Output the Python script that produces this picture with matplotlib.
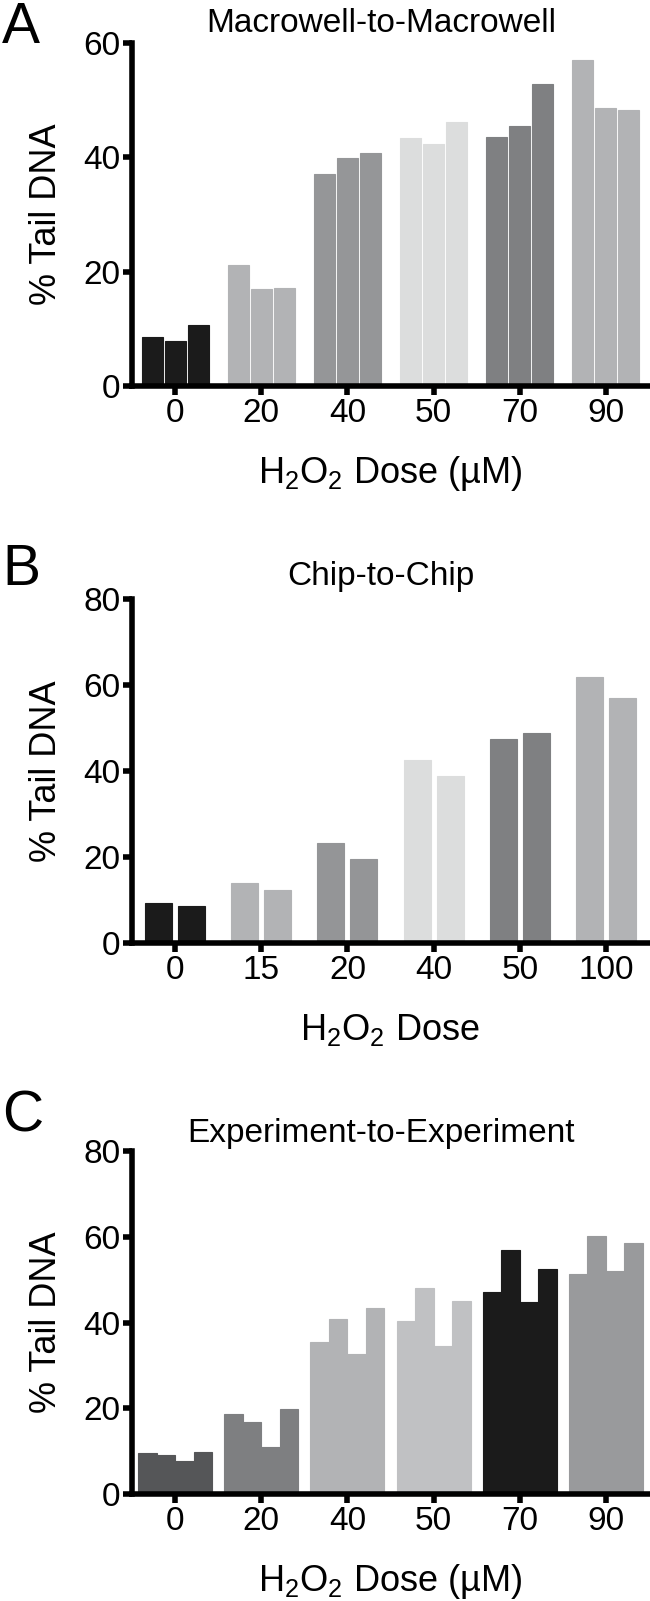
import matplotlib
matplotlib.use('Agg')
import matplotlib.pyplot as plt
import numpy as np

plt.rcParams['font.family'] = ['Liberation Sans', 'DejaVu Sans']
plt.rcParams['mathtext.fontset'] = 'custom'
plt.rcParams['mathtext.rm'] = 'Liberation Sans'
plt.rcParams['mathtext.default'] = 'rm'

# panel A - macrowell to macrowell
a_doses = ['0', '20', '40', '50', '70', '90']
a_vals = [[8.6, 7.9, 10.6], [21.1, 16.9, 17.1], [37.0, 39.9, 40.7],
          [43.4, 42.3, 46.1], [43.5, 45.4, 52.9], [57.0, 48.6, 48.2]]
a_cols = ['#1b1b1b', '#b2b3b5', '#959698', '#dcdddd', '#7f8082', '#b2b3b5']

# panel B - chip to chip
b_doses = ['0', '15', '20', '40', '50', '100']
b_vals = [[9.2, 8.5], [14.0, 12.3], [23.2, 19.5],
          [42.5, 38.9], [47.4, 48.8], [61.8, 56.9]]
b_cols = ['#1b1b1b', '#b2b3b5', '#949597', '#dcdddd', '#7f8082', '#b2b3b5']

# panel C - experiment to experiment
c_doses = ['0', '20', '40', '50', '70', '90']
c_vals = [[9.5, 9.0, 7.7, 9.7], [18.6, 16.7, 11.0, 19.9],
          [35.5, 40.7, 32.6, 43.4], [40.4, 48.0, 34.5, 45.0],
          [47.2, 57.0, 44.7, 52.5], [51.4, 60.2, 51.9, 58.6]]
c_cols = ['#555658', '#7e7f81', '#b2b3b5', '#c0c1c3', '#1b1b1b', '#999a9c']

W, H = 650, 1601
fig = plt.figure(figsize=(W / 100, H / 100), dpi=100)


def make_ax(top, bottom):
    return fig.add_axes([132 / W, 1 - bottom / H, (649 - 132) / W, (bottom - top) / H])


def style(ax, ymax, doses):
    for s in ['top', 'right']:
        ax.spines[s].set_visible(False)
    for s in ['left', 'bottom']:
        ax.spines[s].set_linewidth(4)
    ax.set_xlim(-0.5, 5.5)
    ax.set_ylim(0, ymax)
    ax.set_yticks(np.arange(0, ymax + 1, 20))
    ax.set_xticks(range(len(doses)))
    ax.set_xticklabels(doses)
    ax.tick_params(width=4, length=6.5, labelsize=24, pad=2)


def bars(ax, vals, cols, pitch, width):
    for i, (group, c) in enumerate(zip(vals, cols)):
        n = len(group)
        xs = i + (np.arange(n) - (n - 1) / 2) * pitch
        ax.bar(xs, group, width=width, color=c, edgecolor=c,
               linewidth=0.8, zorder=2)


def labels(top, bottom, letter, title, xlabel, letter_base, title_base):
    fig.text(2 / W, 1 - letter_base / H, letter, fontsize=41, va='baseline', ha='left')
    fig.text(381 / W, 1 - title_base / H, title, fontsize=24, va='baseline', ha='center')
    fig.text(47 / W, 1 - (top + bottom) / 2 / H, '% Tail DNA', fontsize=26,
             rotation=90, va='center', ha='center')
    fig.text(390 / W, 1 - (bottom + 97) / H, xlabel, fontsize=26, va='baseline', ha='center')


ax_1 = make_ax(43, 386)
bars(ax_1, a_vals, a_cols, 0.267, 0.244)
style(ax_1, 60, a_doses)
labels(43, 386, 'A', 'Macrowell-to-Macrowell', r'H$_2$O$_2$ Dose (µM)', 43, 32)

ax_2 = make_ax(599, 943)
bars(ax_2, b_vals, b_cols, 0.383, 0.313)
style(ax_2, 80, b_doses)
labels(599, 943, 'B', 'Chip-to-Chip', r'H$_2$O$_2$ Dose', 585, 585)

ax_3 = make_ax(1151, 1494)
bars(ax_3, c_vals, c_cols, 0.215, 0.215)
style(ax_3, 80, c_doses)
labels(1151, 1494, 'C', 'Experiment-to-Experiment', r'H$_2$O$_2$ Dose (µM)', 1132, 1142)

fig.savefig('out.png', dpi=100)
